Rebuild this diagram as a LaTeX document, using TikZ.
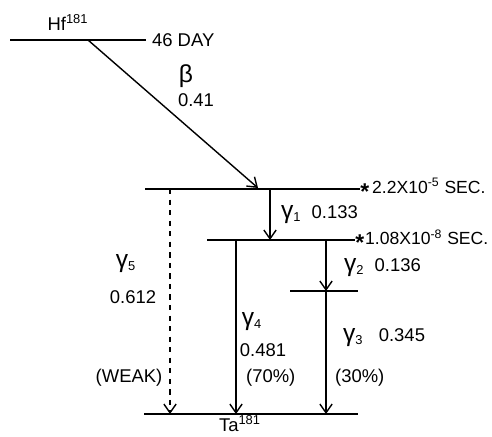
\documentclass[tikz,border=0pt]{standalone}
\usepackage{fontspec}
\setmainfont{Liberation Sans}
\usepackage{tikz}
\usetikzlibrary{arrows.meta,positioning,calc}

\tikzset{
  level/.style={line width=1.1pt},
  trans/.style={->,line width=0.8pt},
  lbl/.style={inner sep=1pt,font=\fontsize{10.5}{12}\selectfont},
  life/.style={lbl,anchor=west,font=\fontsize{10}{12}\selectfont},
}
\newcommand{\gam}[1]{{\fontsize{14}{14}\selectfont γ}\textsubscript{#1}}

\begin{document}
\begin{tikzpicture}[x=0.02cm,y=-0.02cm,>={Straight Barb[length=5pt,width=7pt]}]
\useasboundingbox (0,0) rectangle (492,436);
% levels
\coordinate (hfL) at (10,40);   \coordinate (hfR) at (146,40);
\coordinate (aL) at (145,189);  \coordinate (aR) at (360,189);
\coordinate (bL) at (207,240);  \coordinate (bR) at (355,240);
\coordinate (cL) at (290,291);  \coordinate (cR) at (358,291);
\coordinate (gL) at (144,414);  \coordinate (gR) at (358,414);
\draw[level] (hfL) -- (hfR);
\draw[level] (aL) -- (aR);
\draw[level] (bL) -- (bR);
\draw[level] (cL) -- (cR);
\draw[level] (gL) -- (gR);
\node[lbl] (hf) at (68,22) {Hf\textsuperscript{181}};
\node[lbl,anchor=west] (day) at ($(hfR)+(4,0)$) {46 DAY};
\node[lbl] (ta) at (240,424) {Ta\textsuperscript{181}};
\node[lbl,anchor=west,inner sep=0pt,font=\fontsize{13}{13}\selectfont] (stara) at ($(aR)+(0,3)$) {\textbf{*}};
\node[life] (ta5) at ($(aR)+(10,-3)$) {2.2X10\textsuperscript{-5} SEC.};
\node[lbl,anchor=west,inner sep=0pt,font=\fontsize{13}{13}\selectfont] (starb) at ($(bR)+(0,3)$) {\textbf{*}};
\node[life] (tb8) at ($(bR)+(8,-3)$) {1.08X10\textsuperscript{-8} SEC.};
% beta
\coordinate (bs) at (88,40); \coordinate (be) at (258,188);
\draw[trans] (bs) -- (be);
\node[lbl,font=\fontsize{14}{14}\selectfont] (beta) at (186,76) {β};
\node[lbl] (ebeta) at (196,100) {0.41};
% gammas
\coordinate (g1s) at (270,189); \coordinate (g1e) at (270,240);
\coordinate (g2s) at (326,240); \coordinate (g2e) at (326,291);
\coordinate (g3s) at (326,291); \coordinate (g3e) at (326,414);
\coordinate (g4s) at (236,240); \coordinate (g4e) at (236,414);
\coordinate (g5s) at (170,189); \coordinate (g5e) at (170,414);
\draw[trans] (g1s) -- (g1e);
\draw[trans] (g2s) -- (g2e);
\draw[trans] (g3s) -- (g3e);
\draw[trans] (g4s) -- (g4e);
\draw[trans,dashed] (g5s) -- (g5e);
\node[lbl,anchor=west] (gam1) at (279,215) {\gam{1}\ \ 0.133};
\node[lbl,anchor=west] (gam2) at (342,268) {\gam{2}\ \ 0.136};
\node[lbl,anchor=west] (gam3) at (341,338) {\gam{3}\ \ \ 0.345};
\node[lbl] (gam4) at (252,322) {\gam{4}};
\node[lbl] (e4) at (263,350) {0.481};
\node[lbl,anchor=west] (p70) at (244,378) {(70\%)};
\node[lbl,anchor=west] (p30) at (333,378) {(30\%)};
\node[lbl] (gam5) at (126,264) {\gam{5}};
\node[lbl] (e5) at (133,297) {0.612};
\node[lbl] (weak) at (129,378) {(WEAK)};
\end{tikzpicture}
\end{document}
